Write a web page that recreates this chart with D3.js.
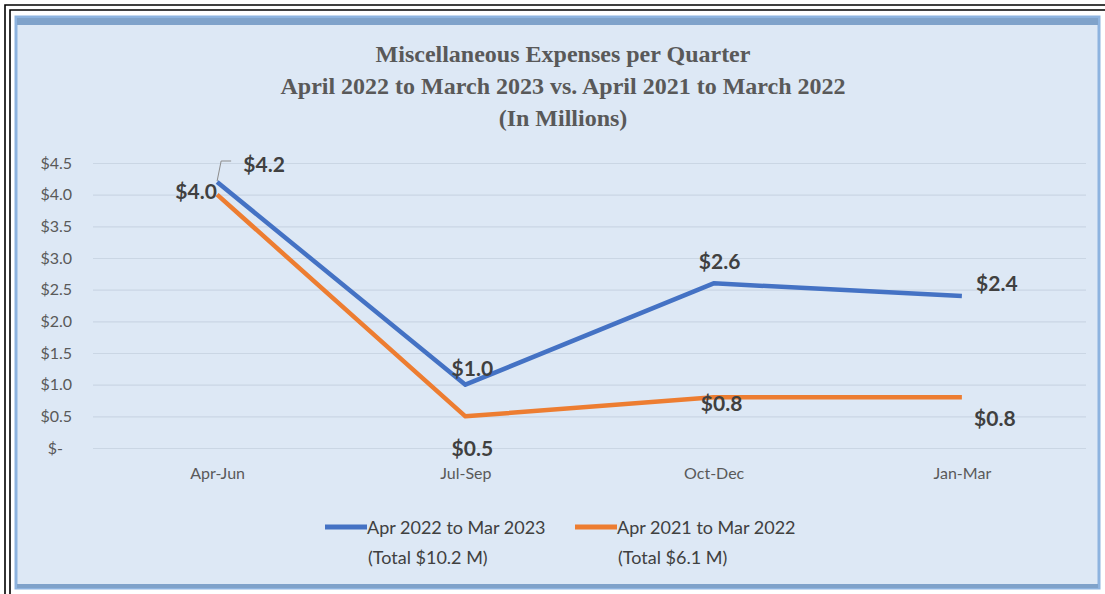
<!DOCTYPE html>
<html>
<head>
<meta charset="utf-8">
<script src="https://cdn.jsdelivr.net/npm/d3@7"></script>
<style>
  body { margin: 0; background: #fff; }
  svg { display: block; }
</style>
</head>
<body>
<svg id="svg" width="1105" height="594"></svg>
<script>
var quarters = ["Apr-Jun", "Jul-Sep", "Oct-Dec", "Jan-Mar"];
var fy2023 = [4.2, 1.0, 2.6, 2.4];
var fy2022 = [4.0, 0.5, 0.8, 0.8];
var yTicks = [0, 0.5, 1.0, 1.5, 2.0, 2.5, 3.0, 3.5, 4.0, 4.5];
var seriesNames = ["Apr 2022 to Mar 2023", "Apr 2021 to Mar 2022"];
var seriesTotals = ["(Total $10.2 M)", "(Total $6.1 M)"];
var titleLines = [
  "Miscellaneous Expenses per Quarter",
  "April 2022 to March 2023 vs. April 2021 to March 2022",
  "(In Millions)"
];

var svg = d3.select("#svg");
var colors = ["#4472c4", "#ed7d31"];
var plot = { left: 93, right: 1086, top: 163, bottom: 448 };
var labelFont = "Lato, 'Open Sans', sans-serif";

// page frame (black double border of the table cell)
svg.append("path")
  .attr("d", "M5,594V5H1105M10,594V10H1105")
  .attr("fill", "none")
  .attr("stroke", "#000")
  .attr("stroke-width", 1.6);

// chart box
svg.append("rect")
  .attr("x", 16).attr("y", 17).attr("width", 1083).attr("height", 571)
  .attr("fill", "#dde8f5")
  .attr("stroke", "#8db3df")
  .attr("stroke-width", 3);
svg.append("rect")
  .attr("x", 17).attr("y", 18).attr("width", 1081).attr("height", 7)
  .attr("fill", "#7fa2ca");
svg.append("rect")
  .attr("x", 17).attr("y", 584).attr("width", 1081).attr("height", 4)
  .attr("fill", "#7fa2ca");

var xScale = d3.scalePoint()
  .domain(quarters)
  .range([plot.left, plot.right])
  .padding(0.5);
var yScale = d3.scaleLinear()
  .domain([0, 4.5])
  .range([plot.bottom, plot.top]);

//grid
var grid = svg.append("g")
  .attr("transform", "translate(" + plot.left + ",0)")
  .call(d3.axisLeft(yScale).tickValues(yTicks).tickSize(-(plot.right - plot.left)).tickFormat(""));
grid.select(".domain").remove();
grid.selectAll("line").attr("stroke", "#cad6e4").attr("stroke-width", 1.2);

//y-axis labels
var yAxis = svg.append("g")
  .attr("transform", "translate(72,0)")
  .call(d3.axisLeft(yScale).tickValues(yTicks).tickSize(0).tickPadding(0)
    .tickFormat(function (d) { return d === 0 ? "$-" : "$" + d3.format(".1f")(d); }));
yAxis.select(".domain").remove();
yAxis.selectAll("text")
  .attr("fill", "#595959")
  .attr("font-family", labelFont)
  .attr("font-size", 16)
  .attr("dx", function (d) { return d === 0 ? -9 : 0; });

//x-axis labels
var xAxis = svg.append("g")
  .attr("transform", "translate(0,468)")
  .call(d3.axisBottom(xScale).tickSize(0).tickPadding(0));
xAxis.select(".domain").remove();
xAxis.selectAll("text")
  .attr("fill", "#595959")
  .attr("font-family", labelFont)
  .attr("font-size", 16);

// title
svg.append("g").selectAll("text")
  .data(titleLines)
  .enter()
  .append("text")
  .attr("x", 563)
  .attr("y", function (d, i) { return 62 + i * 32; })
  .attr("text-anchor", "middle")
  .attr("font-family", "'Liberation Serif', 'Times New Roman', serif")
  .attr("font-weight", "bold")
  .attr("font-size", 24)
  .attr("fill", "#595959")
  .text(function (d) { return d; });

var series = [fy2023, fy2022];
var line = d3.line()
  .x(function (d, i) { return xScale(quarters[i]); })
  .y(function (d) { return yScale(d); });

// draw older series first so the current one stays on top
[1, 0].forEach(function (s) {
  svg.append("path")
    .datum(series[s])
    .attr("d", line)
    .attr("fill", "none")
    .attr("stroke", colors[s])
    .attr("stroke-width", 4.5)
    .attr("stroke-linejoin", "round");
});

// label offsets from each point (dx, dy)
var labelOffsets = [
  [[47, -19], [7, -17], [6, -23], [35, -14]],
  [[-21, -4], [7, 31], [8, 5], [33, 20]]
];

// leader line for the moved $4.2 label
var p0 = [xScale(quarters[0]), yScale(fy2023[0])];
svg.append("path")
  .attr("d", "M" + (p0[0]) + "," + (p0[1] - 1) + "L" + (p0[0] + 4) + "," + (p0[1] - 21) + "H" + (p0[0] + 14))
  .attr("fill", "none")
  .attr("stroke", "#8c8c8c")
  .attr("stroke-width", 1);

series.forEach(function (vals, s) {
  svg.append("g").selectAll("text")
    .data(vals)
    .enter()
    .append("text")
    .attr("x", function (d, i) { return xScale(quarters[i]) + labelOffsets[s][i][0]; })
    .attr("y", function (d, i) { return yScale(d) + labelOffsets[s][i][1]; })
    .attr("text-anchor", "middle")
    .attr("dominant-baseline", "central")
    .attr("font-family", labelFont)
    .attr("font-weight", "bold")
    .attr("font-size", 21)
    .attr("fill", "#404040")
    .text(function (d) { return "$" + d3.format(".1f")(d); });
});

// legend
var legendX = [325, 575];
var legend = svg.append("g").selectAll("g")
  .data(seriesNames)
  .enter()
  .append("g")
  .attr("transform", function (d, i) { return "translate(" + legendX[i] + ",527)"; });
legend.append("line")
  .attr("x1", 0).attr("x2", 42)
  .attr("stroke", function (d, i) { return colors[i]; })
  .attr("stroke-width", 5);
legend.append("text")
  .attr("x", 42)
  .attr("dominant-baseline", "central")
  .attr("font-family", labelFont)
  .attr("font-size", 18)
  .attr("fill", "#404040")
  .text(function (d) { return d; });
legend.append("text")
  .attr("x", 43)
  .attr("y", 30)
  .attr("dominant-baseline", "central")
  .attr("font-family", labelFont)
  .attr("font-size", 18)
  .attr("fill", "#404040")
  .text(function (d, i) { return seriesTotals[i]; });
</script>
</body>
</html>
